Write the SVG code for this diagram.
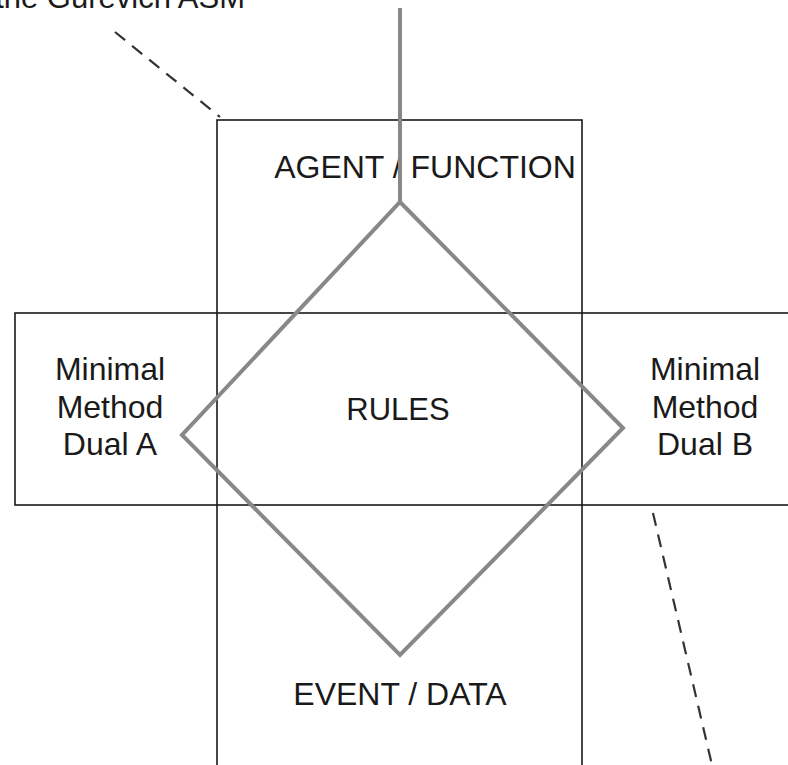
<svg xmlns="http://www.w3.org/2000/svg" width="788" height="765" viewBox="0 0 788 765">
  <style>
    .box { fill: none; stroke: #1a1a1a; stroke-width: 1.6; }
    .lbl { font-family: "Liberation Sans", Arial, sans-serif; font-size: 32px; fill: #1a1a1a; text-anchor: middle; }
    .gray { fill: none; stroke: #888888; stroke-width: 4; stroke-linejoin: miter; stroke-linecap: butt; }
    .dash { fill: none; stroke: #333333; stroke-width: 2.2; stroke-dasharray: 13 9; }
  </style>
  <rect width="788" height="765" fill="#ffffff"/>

  <!-- caption, partly outside the left edge -->
  <text class="lbl" x="245" y="8" style="text-anchor:end;font-size:31px">the Gurevich ASM</text>

  <!-- vertical band: agent / event -->
  <g id="agent-event">
    <rect class="box" x="217" y="120" width="365" height="700"/>
    <text class="lbl" x="425" y="178">AGENT / FUNCTION</text>
    <text class="lbl" x="400" y="705">EVENT / DATA</text>
  </g>

  <!-- horizontal band: dual A / dual B -->
  <g id="dual-band">
    <rect class="box" x="15" y="313" width="800" height="192"/>
  </g>

  <g id="dual-a">
    <text class="lbl" x="110" y="380">Minimal</text>
    <text class="lbl" x="110" y="418">Method</text>
    <text class="lbl" x="110" y="455">Dual A</text>
  </g>

  <g id="dual-b">
    <text class="lbl" x="705" y="380">Minimal</text>
    <text class="lbl" x="705" y="418">Method</text>
    <text class="lbl" x="705" y="455">Dual B</text>
  </g>

  <!-- rules diamond -->
  <g id="rules">
    <polygon class="gray" points="400,202 623,428 400,655 182,435"/>
    <text class="lbl" x="398" y="420" style="font-size:31px">RULES</text>
  </g>

  <!-- connectors -->
  <g id="connectors">
    <line class="gray" x1="400" y1="8" x2="400" y2="202"/>
    <line class="dash" x1="115" y1="32" x2="220" y2="117"/>
    <line class="dash" x1="653" y1="513" x2="712" y2="765"/>
  </g>
</svg>
